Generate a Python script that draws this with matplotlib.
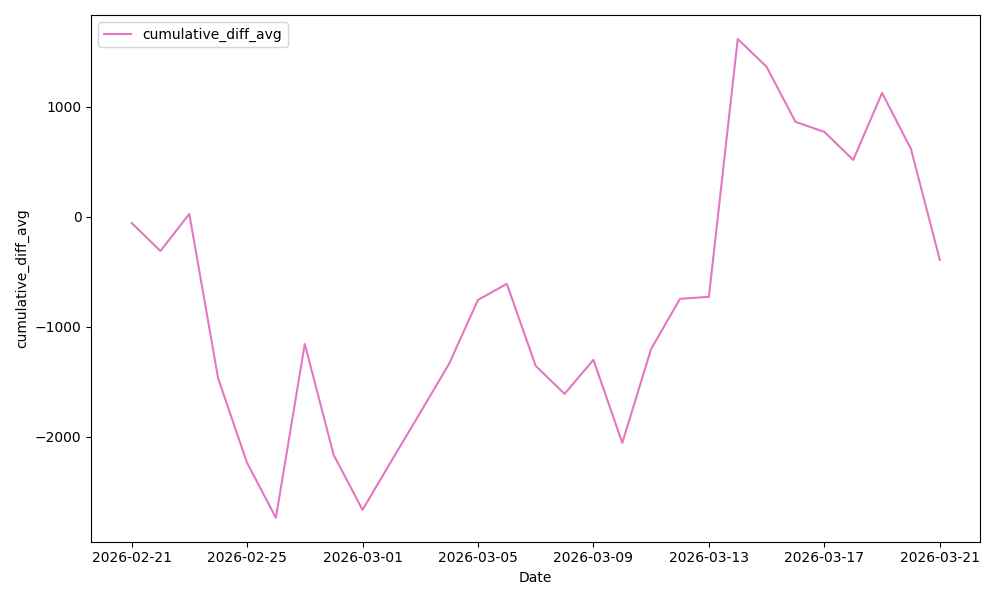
import numpy as np
import pandas as pd
import matplotlib
matplotlib.use("Agg")
import matplotlib.pyplot as plt

dates = pd.date_range("2026-02-21", "2026-03-21", freq="D")
cumulative_diff_avg = [
    -55, -310, 27, -1470, -2236, -2736, -1155, -2164, -2664,
    -2220, -1780, -1336, -755, -609, -1355, -1609, -1300, -2055,
    -1200, -745, -727, 1618, 1364, 864, 773, 518, 1127, 618, -391,
]
tick_dates = pd.date_range("2026-02-21", "2026-03-21", freq="4D")

fig, ax = plt.subplots(figsize=(10, 6), dpi=100)
ax.plot(dates, cumulative_diff_avg, color="#e377c2", label="cumulative_diff_avg")
ax.set_xticks(tick_dates)
ax.set_xticklabels([d.strftime("%Y-%m-%d") for d in tick_dates])
ax.set_xlabel("Date")
ax.set_ylabel("cumulative_diff_avg")
ax.legend(loc="upper left")
plt.tight_layout()
plt.savefig("out.png")
